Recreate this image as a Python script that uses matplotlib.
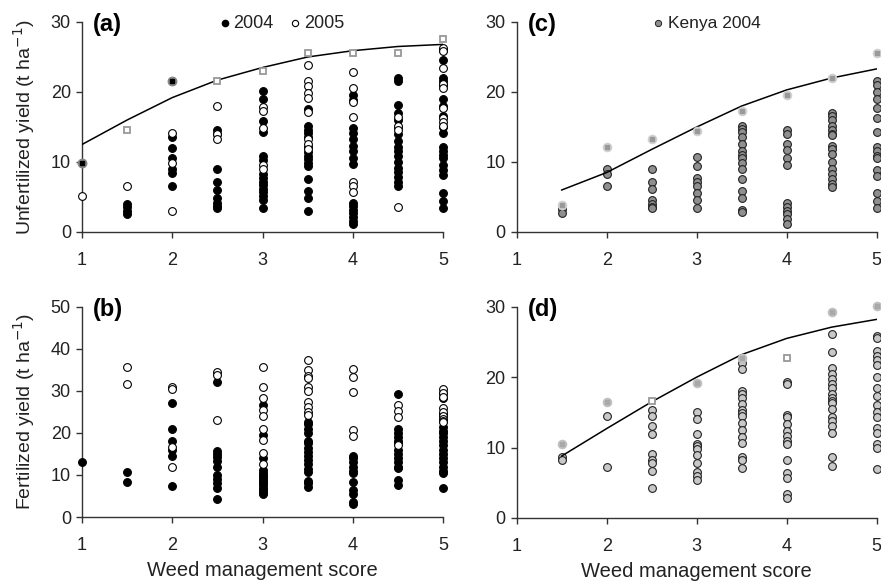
import matplotlib
matplotlib.use("Agg")
import matplotlib.pyplot as plt

plt.rcParams['font.family'] = ['Liberation Sans', 'DejaVu Sans']

scores = [1, 1.5, 2, 2.5, 3, 3.5, 4, 4.5, 5]
xticks = [1, 2, 3, 4, 5]

# ---------------- Panel (a): unfertilized, 2004 / 2005 ----------------
a_2004 = [
    [9.9],
    [4.0, 3.5, 3.0, 2.6],
    [21.6, 13.5, 12.0, 10.5, 9.0, 8.4, 6.5],
    [14.6, 14.0, 9.0, 7.2, 6.0, 4.8, 4.2, 3.7, 3.4],
    [20.1, 19.0, 15.8, 14.3, 10.8, 10.3, 8.3, 7.7, 7.2, 6.7, 6.2, 5.7, 5.2, 4.6, 3.4],
    [17.5, 15.1, 14.6, 14.1, 13.6, 12.1, 11.4, 10.9, 10.4, 9.9, 9.4, 7.5, 5.8, 4.8, 3.0],
    [19.5, 18.9, 14.8, 14.1, 13.3, 12.3, 11.5, 10.6, 9.7, 4.2, 3.7, 3.2, 2.7, 2.2, 1.6, 1.1],
    [22.0, 21.5, 18.2, 17.0, 16.0, 15.0, 14.0, 13.0, 12.2, 11.5, 10.8, 10.0, 9.2, 8.5, 7.8, 7.2, 6.6],
    [26.0, 24.6, 22.0, 21.5, 21.0, 19.0, 18.0, 16.5, 15.0, 14.2, 12.2, 11.5, 11.0, 10.5, 9.5, 8.8, 8.2, 5.6, 4.4, 3.4],
]
a_2005 = [
    [5.1],
    [6.5],
    [14.1, 9.8, 3.0],
    [18.0, 14.0, 13.3],
    [17.9, 17.3, 14.8, 9.6, 9.0],
    [23.9, 21.5, 20.8, 19.9, 19.2, 17.1, 13.3, 12.5, 11.8],
    [22.9, 20.5, 18.5, 16.4, 7.2, 6.5, 5.7],
    [16.4, 15.2, 14.6, 3.5],
    [26.3, 25.8, 23.4, 21.2, 20.6, 17.7, 16.3, 15.7, 15.2],
]
a_max = [9.9, 14.5, 21.6, 21.5, 23.0, 25.6, 25.6, 25.6, 27.5]
a_fit = [12.5, 16.0, 19.2, 21.7, 23.5, 25.0, 25.9, 26.5, 26.8]

# ---------------- Panel (b): fertilized, 2004 / 2005 ----------------
b_2004 = [
    [13.0],
    [10.6, 8.4],
    [27.1, 21.0, 18.1, 16.0, 14.6, 7.3],
    [32.0, 15.6, 15.0, 14.3, 13.3, 12.0, 10.0, 9.0, 8.0, 6.8, 4.3],
    [26.6, 19.4, 14.0, 11.2, 10.5, 10.0, 9.5, 9.0, 8.5, 8.0, 7.5, 7.0, 6.5, 6.0, 5.5],
    [22.5, 22.0, 21.0, 20.0, 18.0, 17.5, 16.5, 15.5, 14.5, 13.5, 12.5, 11.5, 10.8, 8.6, 8.0, 7.2],
    [14.6, 14.0, 13.0, 12.0, 11.0, 10.5, 8.4, 6.5, 5.5, 3.5, 3.0],
    [29.3, 21.0, 20.0, 19.0, 18.0, 17.5, 16.0, 15.0, 14.0, 13.0, 12.0, 11.7, 8.8, 7.5],
    [29.5, 28.3, 24.5, 21.5, 20.5, 20.0, 19.0, 18.0, 17.0, 16.0, 15.0, 14.0, 13.0, 12.0, 11.0, 10.4, 7.0],
]
b_2005 = [
    [],
    [35.7, 31.6],
    [30.9, 30.5, 16.6, 12.0],
    [34.5, 33.8, 23.0],
    [35.7, 30.9, 28.2, 25.5, 24.0, 21.0, 18.2, 15.1, 12.5],
    [37.3, 35.0, 33.5, 33.0, 31.0, 29.9, 27.3, 26.2, 25.0, 24.2],
    [35.2, 33.3, 29.8, 20.8, 19.3],
    [26.6, 25.2, 23.7, 17.0],
    [30.5, 29.6, 28.5, 25.8, 25.0, 24.0, 23.2, 22.9, 22.5],
]

# ---------------- Panel (c): unfertilized, Kenya 2004 ----------------
c_scores = [1.5, 2, 2.5, 3, 3.5, 4, 4.5, 5]
c_vals = [
    [3.3, 2.7],
    [9.0, 8.3, 6.6],
    [9.0, 7.2, 6.1, 4.6, 4.0, 3.6, 3.4],
    [10.7, 9.4, 7.7, 7.2, 6.6, 5.5, 4.6, 3.4],
    [15.2, 14.7, 14.3, 13.5, 12.5, 11.6, 11.0, 10.5, 9.8, 9.0, 7.6, 5.8, 4.8, 3.1, 2.8],
    [14.6, 14.0, 12.6, 11.7, 10.6, 9.6, 4.1, 3.5, 3.0, 2.5, 1.9, 1.2],
    [17.0, 16.5, 16.0, 15.2, 14.5, 14.0, 13.8, 12.3, 11.9, 11.1, 10.0, 9.0, 8.3, 7.5, 6.9, 6.4],
    [21.5, 21.0, 20.0, 19.0, 17.7, 16.3, 14.3, 12.2, 11.5, 10.9, 10.5, 8.8, 8.0, 5.5, 4.4, 3.4],
]
c_max = [3.8, 12.1, 13.3, 14.4, 17.3, 19.6, 22.0, 25.6]
c_fit = [6.0, 8.5, 11.8, 15.0, 18.0, 20.3, 22.0, 23.3]

# ---------------- Panel (d): fertilized, Kenya 2004 ----------------
d_vals = [
    [8.6, 8.3],
    [14.5, 7.2],
    [15.4, 14.5, 13.1, 11.9, 9.1, 8.2, 7.8, 6.7, 4.3],
    [15.0, 14.1, 11.9, 10.5, 10.2, 9.8, 9.0, 7.8, 6.6, 5.9, 5.4],
    [22.0, 21.1, 18.1, 17.6, 17.0, 16.2, 15.3, 14.9, 14.5, 13.5, 12.5, 11.5, 10.6, 8.6, 8.2, 7.1],
    [19.3, 19.0, 14.6, 14.3, 13.3, 12.3, 11.6, 11.0, 10.5, 8.3, 6.4, 5.7, 3.4, 2.8],
    [26.1, 23.5, 21.3, 20.5, 19.8, 19.0, 18.4, 17.6, 17.0, 16.6, 16.3, 15.5, 14.3, 13.8, 13.0, 12.0, 8.6, 7.4],
    [25.8, 25.5, 23.7, 23.0, 22.5, 21.7, 20.0, 18.5, 17.3, 16.0, 15.0, 14.4, 12.8, 12.0, 10.5, 9.9, 6.9],
]
d_max = [10.5, 16.5, 16.6, 19.1, 22.7, 22.7, 29.3, 30.1]
d_max_open = [False, False, True, False, False, True, False, False]
d_fit = [8.8, 12.7, 16.5, 20.0, 23.2, 25.5, 27.1, 28.2]

W, H = 881, 581
fig = plt.figure(figsize=(W / 100, H / 100), dpi=100)


def add_ax(l, r, b, t):
    return fig.add_axes([l / W, 1 - b / H, (r - l) / W, (b - t) / H])


axA = add_ax(82, 443, 232, 22)
axB = add_ax(82, 443, 517, 306.7)
axC = add_ax(516.7, 876.7, 232, 22)
axD = add_ax(516.7, 876.7, 518, 306.7)

MS = 5.6
EW = 0.8
TICK_FS = 13


def flatten(xs, groups):
    X, Y = [], []
    for x, g in zip(xs, groups):
        X += [x] * len(g)
        Y += g
    return X, Y


def style(ax, ymax, ystep, ylabel=None, xlabel=None):
    ax.set_xlim(1, 5)
    ax.set_ylim(0, ymax)
    ax.set_xticks(xticks)
    ax.set_yticks(list(range(0, ymax + 1, ystep)))
    for s in ['top', 'right']:
        ax.spines[s].set_visible(False)
    for s in ['left', 'bottom']:
        ax.spines[s].set_color('#333333')
        ax.spines[s].set_linewidth(1.0)
    ax.tick_params(axis='x', direction='out', length=4, width=1, pad=10.5, labelsize=TICK_FS,
                   colors='#333333', labelcolor='#222222')
    ax.tick_params(axis='y', direction='out', length=4, width=1, pad=4, labelsize=TICK_FS,
                   colors='#333333', labelcolor='#222222')
    if ylabel:
        ax.set_ylabel(ylabel, fontsize=14, color='#222222', labelpad=10)
    if xlabel:
        ax.set_xlabel(xlabel, fontsize=14.5, color='#222222', labelpad=5)


# Panel (a)
X, Y = flatten(scores, a_2004)
axA.plot(X, Y, 'o', ms=MS, mfc='black', mec='black', mew=EW, clip_on=False, zorder=3)
X, Y = flatten(scores, a_2005)
axA.plot(X, Y, 'o', ms=MS, mfc='white', mec='black', mew=EW, clip_on=False, zorder=3)
axA.plot(scores, a_fit, '-', color='black', lw=1.1, zorder=4)
for x, y in zip(scores, a_max):
    if x in (1, 2):
        axA.plot([x], [y], 'o', ms=MS + 0.5, mfc='#888888', mec='#888888', clip_on=False, zorder=5)
        axA.plot([x], [y], 's', ms=2.3, mfc='black', mec='black', clip_on=False, zorder=6)
    else:
        axA.plot([x], [y], 's', ms=4.8, mfc='white', mec='#999999', mew=1.3, clip_on=False, zorder=5)
style(axA, 30, 10, ylabel='Unfertilized yield (t ha$^{-1}$)')
axA.text(1.12, 29.6, '(a)', fontsize=17, fontweight='bold', va='center', ha='left')
axA.plot([2.58], [29.8], 'o', ms=4.5, mfc='black', mec='black', clip_on=False)
axA.text(2.68, 29.8, '2004', fontsize=13, va='center', ha='left', color='#222222')
axA.plot([3.36], [29.8], 'o', ms=4.5, mfc='white', mec='black', mew=0.8, clip_on=False)
axA.text(3.46, 29.8, '2005', fontsize=13, va='center', ha='left', color='#222222')

# Panel (b)
X, Y = flatten(scores, b_2004)
axB.plot(X, Y, 'o', ms=MS, mfc='black', mec='black', mew=EW, clip_on=False, zorder=3)
X, Y = flatten(scores, b_2005)
axB.plot(X, Y, 'o', ms=MS, mfc='white', mec='black', mew=EW, clip_on=False, zorder=3)
style(axB, 50, 10, ylabel='Fertilized yield (t ha$^{-1}$)', xlabel='Weed management score')
axB.text(1.12, 49.3, '(b)', fontsize=17, fontweight='bold', va='center', ha='left')

# Panel (c)
X, Y = flatten(c_scores, c_vals)
axC.plot(X, Y, 'o', ms=MS, mfc='#8f8f8f', mec='#222222', mew=EW, clip_on=False, zorder=3)
axC.plot(c_scores, c_fit, '-', color='black', lw=1.1, zorder=4)
axC.plot(c_scores, c_max, 'o', ms=MS + 0.3, mfc='#d0d0d0', mec='#d0d0d0', clip_on=False, zorder=5)
axC.plot(c_scores, c_max, 's', ms=2.6, mfc='#999999', mec='#999999', clip_on=False, zorder=6)
style(axC, 30, 10)
axC.text(1.12, 29.6, '(c)', fontsize=17, fontweight='bold', va='center', ha='left')
axC.plot([2.57], [29.8], 'o', ms=4.5, mfc='#8f8f8f', mec='#222222', mew=0.7, clip_on=False)
axC.text(2.68, 29.8, 'Kenya 2004', fontsize=12.5, va='center', ha='left', color='#222222')

# Panel (d)
X, Y = flatten(c_scores, d_vals)
axD.plot(X, Y, 'o', ms=MS, mfc='#c8c8c8', mec='#222222', mew=EW, clip_on=False, zorder=3)
axD.plot(c_scores, d_fit, '-', color='black', lw=1.1, zorder=4)
for x, y, op in zip(c_scores, d_max, d_max_open):
    if op:
        axD.plot([x], [y], 's', ms=4.8, mfc='white', mec='#999999', mew=1.3, clip_on=False, zorder=5)
    else:
        axD.plot([x], [y], 'o', ms=MS + 0.3, mfc='#c0c0c0', mec='#c0c0c0', clip_on=False, zorder=5)
        axD.plot([x], [y], 's', ms=3.2, mfc='#a8a8a8', mec='#a8a8a8', clip_on=False, zorder=6)
style(axD, 30, 10, xlabel='Weed management score')
axD.text(1.12, 29.6, '(d)', fontsize=17, fontweight='bold', va='center', ha='left')

fig.savefig('out.png', dpi=100)
